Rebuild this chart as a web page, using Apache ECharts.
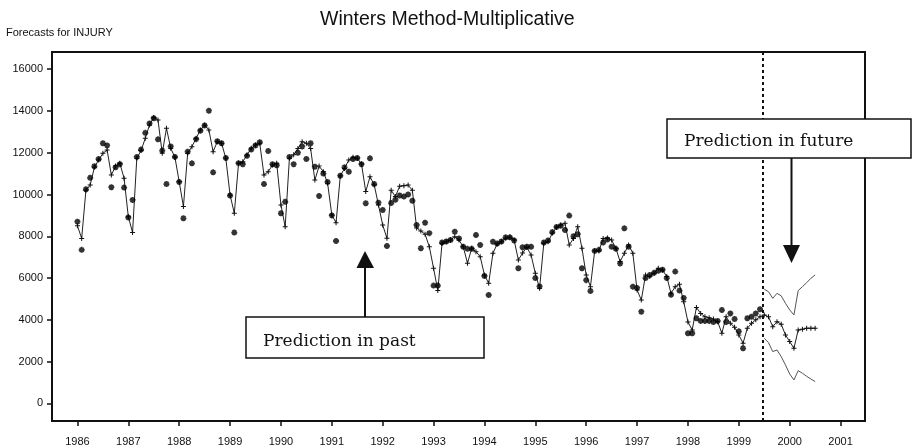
<!DOCTYPE html>
<html><head><meta charset="utf-8">
<script src="https://cdn.jsdelivr.net/npm/echarts@6/dist/echarts.min.js"></script>
<style>html,body{margin:0;padding:0;background:#fff}#c{width:913px;height:448px}</style>
</head><body><div id="c"></div>
<script>
const startYear = 1986;
// Fitted (one-step-ahead) values, Jan 1986 - Jun 1999
const fitted = [
 8500, 7900,10200,10450,11300,11650,11970,12130,10930,11360,11490,10780,
 8940, 8180,11730,12100,12690,13330,13690,13570,11970,13170,12210,11780,
10610, 9420,11970,12290,12690,13090,13330,13090,12050,12530,12450,11730,
 9980, 9100,11490,11570,11890,12210,12370,12450,10930,11090,11410,11490,
 9500, 8460,11730,11900,12200,12530,12450,12200,10690,11360,11090,10540,
 9020, 8650,10890,11250,11650,11780,11730,11460,10140,10850,10460, 9500,
 8540, 7905,10200, 9900,10400,10420,10450,10200, 8400, 8250, 8100, 7500,
 6470, 5400, 7665, 7740, 7820, 7980, 7820, 7500, 6710, 7425, 7265, 7025,
 6150, 5750, 7190, 7630, 7740, 7905, 7950, 7820, 6870, 7200, 7475, 7105,
 6230, 5510, 7665, 7740, 8140, 8430, 8540, 8620, 7585, 7900, 8460, 7425,
 6150, 5590, 7300, 7300, 7900, 7920, 7820, 7425, 6790, 7190, 7585, 7190,
 5430, 4950, 6150, 6070, 6230, 6470, 6390, 6070, 5270, 5590, 5700, 4870,
 3900, 3515, 4595, 4310, 4150, 4100, 4040, 3915, 3360, 4150, 3835, 3650,
 3280, 2880, 3600, 3835, 4000, 4150
];
// Actual INJURY values, Jan 1986 - Jun 1999
const actual = [
 8700, 7350,10250,10800,11350,11700,12450,12350,10350,11300,11450,10330,
 8900, 9740,11800,12150,12950,13400,13650,12640,12100,10500,12300,11800,
10600, 8860,12050,11490,12650,13050,13300,14010,11060,12550,12450,11750,
 9950, 8180,11500,11450,11850,12150,12350,12500,10500,12080,11450,11400,
 9100, 9650,11800,11450,12000,12300,11700,12450,11330, 9930,11000,10600,
 9000, 7775,10900,11300,11090,11700,11750,11450, 9580,11730,10500, 9610,
 9260, 7535, 9590, 9750, 9950, 9900,10000, 9700, 8540, 7425, 8650, 8150,
 5640, 5640, 7700, 7750, 7820, 8220, 7900, 7500, 7400, 7400, 8060, 7585,
 6100, 5190, 7740, 7650, 7750, 7950, 7950, 7800, 6470, 7475, 7500, 7500,
 6000, 5600, 7700, 7800, 8200, 8450, 8500, 8300, 8990, 8000, 8100, 6470,
 5900, 5380, 7300, 7350, 7700, 7850, 7500, 7400, 6700, 8380, 7500, 5590,
 5530, 4390, 6000, 6150, 6250, 6350, 6400, 6000, 5200, 6310, 5400, 5050,
 3360, 3360, 4075, 3950, 3950, 3950, 3900, 3950, 4470, 3900, 4310, 4040,
 3450, 2640, 4075, 4150, 4310, 4510
];
// Forecasts Jul 1999 - Jul 2000
const forecast = [4235,4150,3675,3915,3790,3280,2960,2640,3515,3550,3600,3600,3600];
const upper    = [5465,5350,5030,5270,5150,4795,4475,4235,5400,5590,5780,5990,6150];
const lower    = [3120,2910,2480,2560,2240,1840,1410,1125,1570,1445,1300,1170,1045];
const yTicks = [0,2000,4000,6000,8000,10000,12000,14000,16000];
const xTicks = [1986,1987,1988,1989,1990,1991,1992,1993,1994,1995,1996,1997,1998,1999,2000,2001];
const forecastStart = 1999.47;
const titleText = 'Winters Method-Multiplicative';
const subtitleText = 'Forecasts for INJURY';
const notePast = 'Prediction in past';
const noteFuture = 'Prediction in future';

const toX = i => startYear + i / 12;
const off = fitted.length;
const lineData = fitted.concat(forecast).map((v, i) => [toX(i), v]);
const actualData = actual.map((v, i) => [toX(i), v]);
const upperData = upper.map((v, i) => [toX(off + i), v]);
const lowerData = lower.map((v, i) => [toX(off + i), v]);

const plusSym = 'path://M4,0H6V4H10V6H6V10H4V6H0V4H4Z';
const astSym = 'path://M3.5,0H6.5V10H3.5Z M0,3.5H10V6.5H0Z M0.5,2.5L2.5,0.5L9.5,7.5L7.5,9.5Z M7.5,0.5L9.5,2.5L2.5,9.5L0.5,7.5Z';
const ink = '#111';
const plain = v => String(Math.round(v));

const chart = echarts.init(document.getElementById('c'), null, {renderer: 'canvas'});
chart.setOption({
  animation: false,
  backgroundColor: '#fff',
  title: [
    {text: titleText, left: 320, top: 10, padding: 0,
     textStyle: {fontFamily: 'Liberation Sans', fontSize: 19.5, fontWeight: 'normal', color: ink}},
    {text: subtitleText, left: 6, top: 27, padding: 0,
     textStyle: {fontFamily: 'Liberation Sans', fontSize: 11, fontWeight: 'normal', color: ink}}
  ],
  grid: {left: 52, right: 48, top: 52, bottom: 27, show: true, borderColor: ink, borderWidth: 2},
  xAxis: {
    type: 'value', min: 1985.5, max: 2001.48,
    axisLine: {show: true, onZero: false, lineStyle: {color: ink, width: 2}},
    splitLine: {show: false},
    axisTick: {show: true, customValues: xTicks, length: 5, lineStyle: {color: ink, width: 1.5}},
    axisLabel: {customValues: xTicks, formatter: plain, margin: 15, fontSize: 11, color: ink, fontFamily: 'Liberation Sans'}
  },
  yAxis: {
    type: 'value', min: -840, max: 16820,
    axisLine: {show: true, onZero: false, lineStyle: {color: ink, width: 2}},
    splitLine: {show: false},
    axisTick: {show: true, customValues: yTicks, length: 5, lineStyle: {color: ink, width: 1.5}},
    axisLabel: {customValues: yTicks, formatter: plain, margin: 9, fontSize: 11, color: ink, fontFamily: 'Liberation Sans'}
  },
  series: [
    {type: 'line', data: lineData, symbol: plusSym, symbolSize: 5, showAllSymbol: true,
     lineStyle: {color: '#222', width: 1}, itemStyle: {color: ink}, z: 3,
     markLine: {silent: true, symbol: ['none', 'none'], label: {show: false},
       lineStyle: {color: ink, width: 2, type: [3, 3]}, data: [{xAxis: forecastStart}]}},
    {type: 'scatter', data: actualData, symbol: astSym, symbolSize: 6, itemStyle: {color: '#000'}, z: 4},
    {type: 'line', data: upperData, showSymbol: false, lineStyle: {color: '#555', width: 1}},
    {type: 'line', data: lowerData, showSymbol: false, lineStyle: {color: '#555', width: 1}}
  ],
  graphic: [
    {type: 'line', z: 100, shape: {x1: 365, y1: 317, x2: 365, y2: 266}, style: {stroke: ink, lineWidth: 2}},
    {type: 'polygon', z: 100, shape: {points: [[356.5, 268], [374, 268], [365, 251]]}, style: {fill: ink}},
    {type: 'rect', z: 100, shape: {x: 246, y: 317, width: 238, height: 41}, style: {fill: '#fff', stroke: ink, lineWidth: 1.5}},
    {type: 'text', z: 101, x: 263, y: 342, style: {text: notePast, font: '17px "DejaVu Serif"', fill: ink, verticalAlign: 'middle'}},
    {type: 'rect', z: 100, shape: {x: 667, y: 119, width: 244, height: 39}, style: {fill: '#fff', stroke: ink, lineWidth: 1.5}},
    {type: 'text', z: 101, x: 684, y: 142, style: {text: noteFuture, font: '17px "DejaVu Serif"', fill: ink, verticalAlign: 'middle'}},
    {type: 'line', z: 100, shape: {x1: 791.5, y1: 158, x2: 791.5, y2: 247}, style: {stroke: ink, lineWidth: 2}},
    {type: 'polygon', z: 100, shape: {points: [[783, 245], [800, 245], [791.5, 263]]}, style: {fill: ink}}
  ]
});
</script></body></html>
